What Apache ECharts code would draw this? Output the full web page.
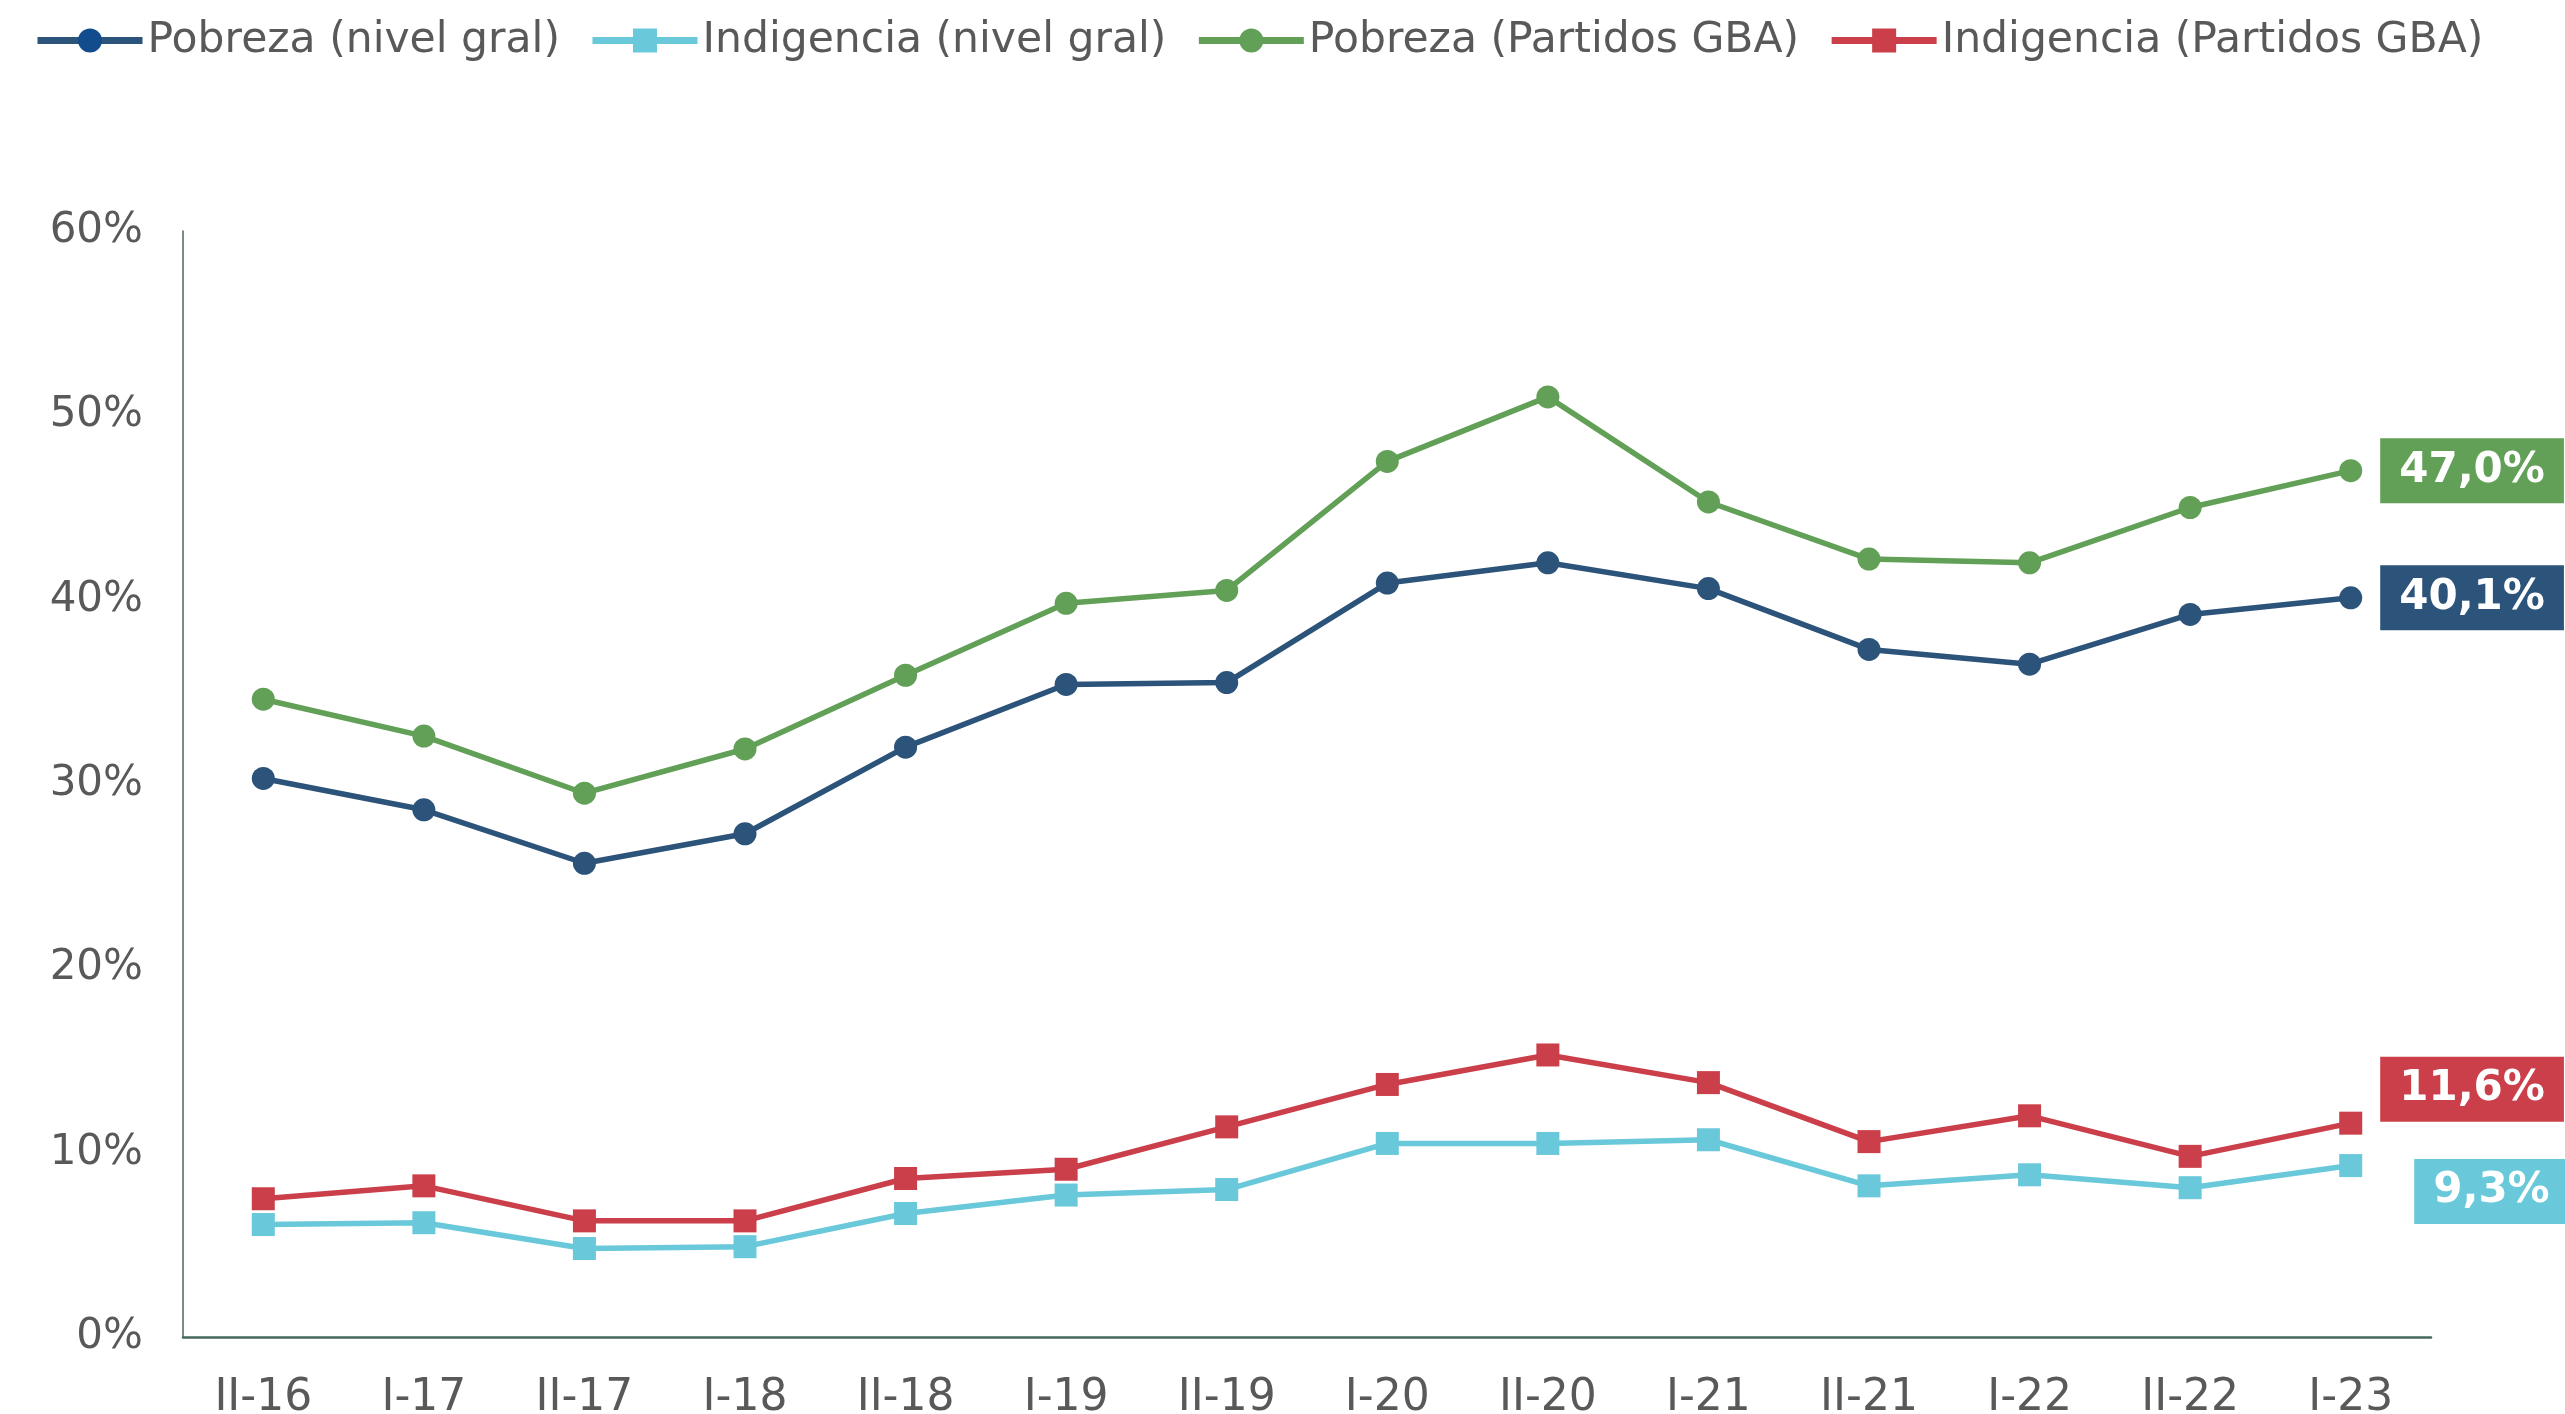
<!DOCTYPE html>
<html>
<head>
<meta charset="utf-8">
<script src="https://cdn.jsdelivr.net/npm/echarts@6/dist/echarts.min.js"></script>
<style>
html,body{margin:0;padding:0;background:#fff;}
#c{width:2565px;height:1414px;}
</style>
</head>
<body>
<div id="c"></div>
<script>
const categories = ['II-16','I-17','II-17','I-18','II-18','I-19','II-19','I-20','II-20','I-21','II-21','I-22','II-22','I-23'];
const pobrezaGral = [30.3,28.6,25.7,27.3,32.0,35.4,35.5,40.9,42.0,40.6,37.3,36.5,39.2,40.1];
const indigenciaGral = [6.1,6.2,4.8,4.9,6.7,7.7,8.0,10.5,10.5,10.7,8.2,8.8,8.1,9.3];
const pobrezaGBA = [34.6,32.6,29.5,31.9,35.9,39.8,40.5,47.5,51.0,45.3,42.2,42.0,45.0,47.0];
const indigenciaGBA = [7.5,8.2,6.3,6.3,8.6,9.1,11.4,13.7,15.3,13.8,10.6,12.0,9.8,11.6];
const yTicks = [0,10,20,30,40,50,60];

const FONT = 'DejaVu Sans';
const TXT = '#595959';

function fmt(v){ return v.toFixed(1).replace('.', ',') + '%'; }

function withEndLabel(arr, color, offset){
  return arr.map((v,i)=>{
    if(i !== arr.length-1) return v;
    return {
      value: v,
      label: {
        show: true,
        position: 'right',
        distance: 18,
        offset: offset,
        formatter: p => fmt(p.value),
        color: '#fff',
        fontFamily: FONT,
        fontWeight: 'bold',
        fontSize: 42,
        lineHeight: 45,
        backgroundColor: color,
        padding: [10, 19, 10, 19]
      }
    };
  });
}

function mkSeries(name, arr, color, symbol, offset){
  return {
    name: name,
    type: 'line',
    data: withEndLabel(arr, color, offset),
    symbol: symbol,
    symbolSize: 23,
    showSymbol: true,
    lineStyle: {color: color, width: 5.5},
    itemStyle: {color: color},
    emphasis: {disabled: true},
    animation: false
  };
}

const C_PG = '#2C5379', C_IG = '#69C8DA', C_PB = '#61A056', C_IB = '#CB3F4A';

const chart = echarts.init(document.getElementById('c'), null, {renderer:'canvas'});
chart.setOption({
  backgroundColor: '#fff',
  animation: false,
  legend: {
    show: true,
    left: 29,
    top: 14,
    itemWidth: 105,
    itemHeight: 30,
    itemGap: 29,
    lineStyle: {width: 7},
    textStyle: {fontFamily: FONT, fontSize: 42.5, color: TXT},
    data: [
      {name: 'Pobreza (nivel gral)', itemStyle: {color: '#134C8C'}},
      'Indigencia (nivel gral)',
      'Pobreza (Partidos GBA)',
      'Indigencia (Partidos GBA)'
    ]
  },
  grid: {left: 183, right: 134, top: 231, bottom: 77, containLabel: false, outerBoundsMode: 'none'},
  xAxis: {
    type: 'category',
    data: categories,
    boundaryGap: true,
    axisLine: {show: true, lineStyle: {color: '#46695F', width: 2.5}},
    axisTick: {show: false},
    axisLabel: {fontFamily: FONT, fontSize: 44, color: TXT, margin: 40}
  },
  yAxis: {
    type: 'value',
    min: yTicks[0],
    max: yTicks[yTicks.length-1],
    interval: yTicks[1]-yTicks[0],
    axisLine: {show: true, lineStyle: {color: '#46695F', width: 1.5}},
    axisTick: {show: false},
    splitLine: {show: false},
    axisLabel: {fontFamily: FONT, fontSize: 42, color: TXT, margin: 40, formatter: '{value}%'}
  },
  series: [
    mkSeries('Pobreza (nivel gral)', pobrezaGral, C_PG, 'circle', [0,0]),
    mkSeries('Indigencia (nivel gral)', indigenciaGral, C_IG, 'rect', [34,26]),
    mkSeries('Pobreza (Partidos GBA)', pobrezaGBA, C_PB, 'circle', [0,0]),
    mkSeries('Indigencia (Partidos GBA)', indigenciaGBA, C_IB, 'rect', [0,-34])
  ]
});
</script>
</body>
</html>
